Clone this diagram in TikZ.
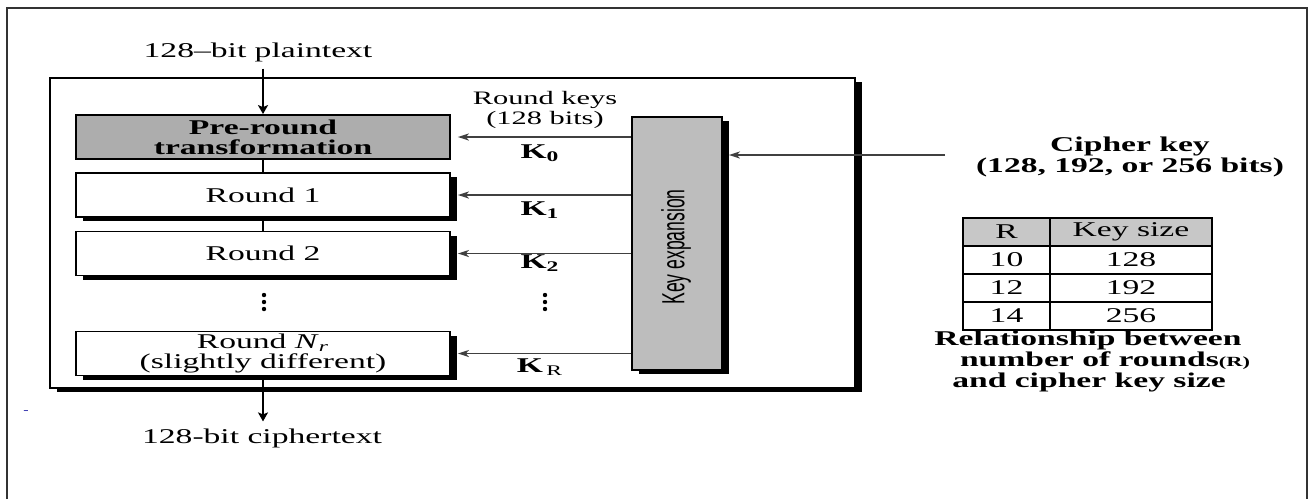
\documentclass[tikz,border=0pt]{standalone}
\usepackage{fontspec}
\setmainfont{Liberation Serif}[FakeStretch=1.6]
\newfontfamily\keyfont{Liberation Sans}[FakeStretch=0.55]
\usetikzlibrary{arrows.meta,shadows,matrix,positioning}

\definecolor{boxgray}{gray}{0.68}
\definecolor{keygray}{gray}{0.74}
\definecolor{headgray}{gray}{0.78}
\definecolor{linegray}{gray}{0.25}
\newcommand{\diagfont}{\fontsize{10.5}{10}\selectfont}

\begin{document}
\begin{tikzpicture}[x=0.5pt, y=-0.5pt,
    every node/.style={font=\diagfont},
    shadowed/.style={drop shadow={shadow xshift=3.5pt, shadow yshift=-2pt, opacity=1, fill=black}},
    stage/.style={draw, line width=0.9pt, fill=white, minimum width=187pt,
        minimum height=22pt, inner sep=0pt, align=center},
    flow/.style={-{Stealth[length=4.5pt,width=5pt,inset=1pt]}, line width=1pt},
    keyarrow/.style={-{Stealth[length=5.5pt,width=3.5pt,inset=1.5pt]}, line width=0.8pt, draw=linegray}
]
    \useasboundingbox (0,0) rectangle (1309,499);

    % page frame
    \draw[line width=1.3pt, black!80] (7,499) -- (7,8) -- (1307,8) -- (1307,499);
    \node[font=\tiny, text=blue!60!black] (mark) at (26,412) {-};

    % cipher block
    \draw[line width=0.9pt, fill=white, shadowed] (50,78) rectangle (855,388);

    \node[stage, fill=boxgray, font=\diagfont\bfseries] (pre) at (263,137) {Pre-round\\transformation};
    \node[stage, shadowed] (r1) at (263,195) {Round 1};
    \node[stage, shadowed] (r2) at (263,253.5) {Round 2};
    \node[stage, shadowed] (rn) at (263,353.5) {Round \textit{N}\textsubscript{\textit{r}}\\(slightly different)};
    \foreach \dy in {295,302,309}
        \fill (264,\dy) circle (1.1pt);

    \node (plain) at (258,52) {128--bit plaintext};
    \node (cipher) at (262,438) {128-bit ciphertext};

    \draw[flow] (pre.north |- plain.south) -- (pre.north);
    \draw[line width=1pt] (pre.south) -- (r1.north);
    \draw[line width=1pt] (r1.south) -- (r2.north);
    \draw[flow] (rn.south) -- (rn.south |- cipher.north);

    % key schedule
    \node[draw, line width=0.9pt, fill=keygray, shadowed, minimum width=45pt,
        minimum height=126.5pt, inner sep=0pt] (kx) at (677,243.5) {};
    \node[rotate=90, font=\keyfont\fontsize{16}{16}\selectfont] (kxlabel) at (676,247) {Key expansion};

    \node[align=center, font=\fontsize{9.5}{10}\selectfont] (rk) at (545,110) {Round keys\\(128 bits)};
    \node (k0) at (540,153) {\textbf{K}\textsubscript{\textbf{0}}};
    \node (k1) at (540,210) {\textbf{K}\textsubscript{\textbf{1}}};
    \node (k2) at (540,263) {\textbf{K}\textsubscript{\textbf{2}}};
    \node (kr) at (540,367) {\textbf{K}\,\textsubscript{R}};
    \foreach \dy in {295,302,309}
        \fill (545,\dy) circle (1.1pt);

    \draw[keyarrow] (kx.west |- pre.east) -- ([xshift=3.5pt]pre.east);
    \draw[keyarrow] (kx.west |- r1.east) -- ([xshift=3.5pt]r1.east);
    \draw[keyarrow] (kx.west |- r2.east) -- ([xshift=3.5pt]r2.east);
    \draw[keyarrow] (kx.west |- rn.east) -- ([xshift=3.5pt]rn.east);

    \node[align=center, font=\fontsize{10.5}{10.5}\selectfont\bfseries] (ckey) at (1130,156.5) {Cipher key\\(128, 192, or 256 bits)};
    \coordinate (ckin) at (945,155);
    \draw[keyarrow] (ckin) -- ([xshift=3pt]kx.east |- ckin);

    % rounds vs key size
    \matrix (tbl) [matrix of nodes,
        nodes={draw, line width=0.8pt, minimum height=14pt, inner sep=0pt, anchor=center},
        column sep=-0.8pt, row sep=-0.8pt,
        column 1/.style={nodes={minimum width=43.5pt}},
        column 2/.style={nodes={minimum width=81pt}},
        row 1/.style={nodes={fill=headgray}}] at (1087.5,274) {
        R  & Key size \\
        10 & 128 \\
        12 & 192 \\
        14 & 256 \\
    };
    \node[font=\diagfont\bfseries] (cap1) at (1088,340) {Relationship between};
    \node[font=\diagfont\bfseries] (cap2) at (1105,361) {number of rounds{\scriptsize(R)}};
    \node[font=\diagfont\bfseries] (cap3) at (1089,382) {and cipher key size};
\end{tikzpicture}
\end{document}
